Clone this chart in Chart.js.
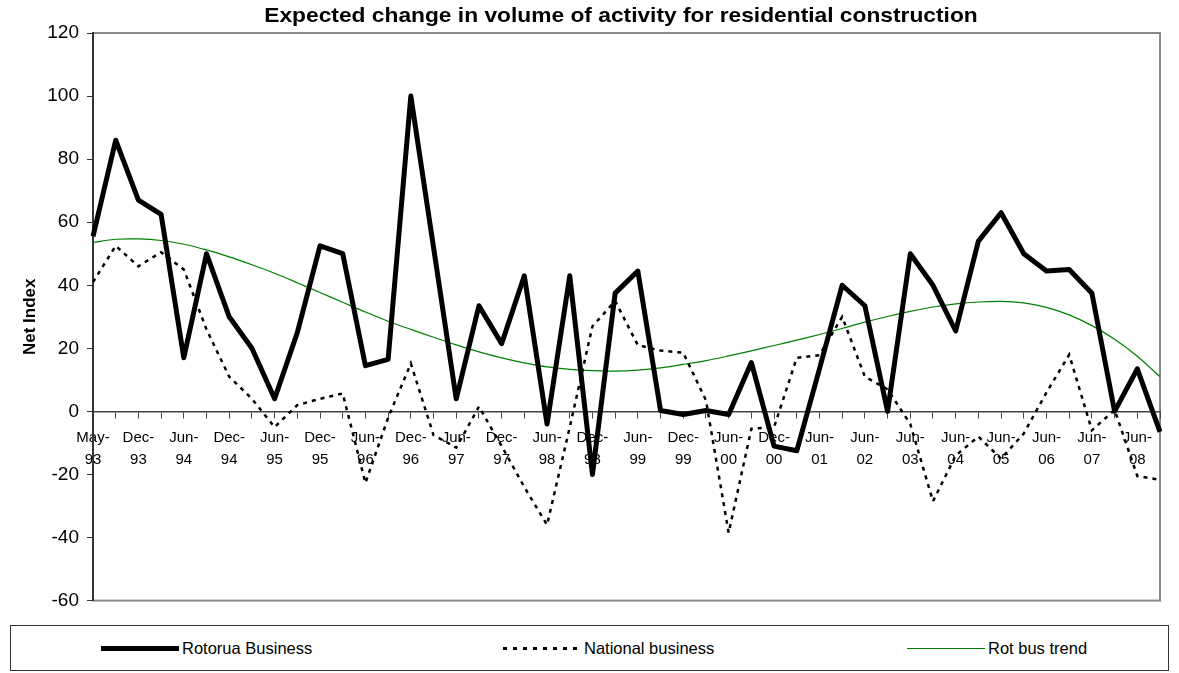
<!DOCTYPE html>
<html>
<head>
<meta charset="utf-8">
<title>Expected change in volume of activity for residential construction</title>
<script src="https://cdn.jsdelivr.net/npm/chart.js@4.4.1/dist/chart.umd.min.js"></script>
<style>
  html, body { margin: 0; padding: 0; background: #fff; }
  #page  { position: relative; width: 1179px; height: 673px; overflow: hidden; font-family: 'Liberation Sans', Arial, sans-serif; }
  #title {
    position: absolute; left: 0; top: 3px; width: 1242px; text-align: center;
    font-size: 21px; font-weight: bold; color: #000; line-height: 24px;
    transform: scaleX(1.084); transform-origin: 621px 0;
  }
  #plot  { position: absolute; left: 0; top: 0; width: 1179px; height: 620px; }
  #legend {
    position: absolute; left: 10px; top: 625px; width: 1157px; height: 44px;
    border: 1.5px solid #333; box-sizing: content-box;
  }
  .lg-item { position: absolute; top: 0; height: 44px; display: flex; align-items: center; font-size: 16.5px; color: #000; }
  .lg-swatch { width: 78px; margin-right: 3px; }
  .sw-rot  { height: 5px; background: #000; }
  .sw-nat  { height: 3px; background: repeating-linear-gradient(90deg, #000 0 4px, transparent 4px 10px); }
  .sw-trend{ height: 1px; background: #008000; }
</style>
</head>
<body>
<div id="page">
  <div id="plot"><canvas id="chart"></canvas></div>
  <div id="title">Expected change in volume of activity for residential construction</div>
  <div id="legend">
    <div class="lg-item" style="left:90px"><span class="lg-swatch sw-rot"></span>Rotorua Business</div>
    <div class="lg-item" style="left:492px"><span class="lg-swatch sw-nat"></span>National business</div>
    <div class="lg-item" style="left:896px"><span class="lg-swatch sw-trend"></span>Rot bus trend</div>
  </div>
</div>
<script>
// ── Data ────────────────────────────────────────────────────
const periods = [
  'May-93','Sep-93','Dec-93','Mar-94','Jun-94','Sep-94','Dec-94','Mar-95',
  'Jun-95','Sep-95','Dec-95','Mar-96','Jun-96','Sep-96','Dec-96','Mar-97',
  'Jun-97','Sep-97','Dec-97','Mar-98','Jun-98','Sep-98','Dec-98','Mar-99',
  'Jun-99','Sep-99','Dec-99','Mar-00','Jun-00','Sep-00','Dec-00','Mar-01',
  'Jun-01','Dec-01','Jun-02','Dec-02','Jun-03','Dec-03','Jun-04','Dec-04',
  'Jun-05','Dec-05','Jun-06','Dec-06','Jun-07','Dec-07','Jun-08','Dec-08'
];

const rotoruaBusiness = [
  55.5, 86, 67, 62.5, 17, 50, 30, 20, 4, 25, 52.5, 50, 14.5, 16.5, 100, 52,
  4, 33.5, 21.5, 43, -4, 43, -20, 37.5, 44.5, 0.3, -1, 0.3, -1, 15.5, -11, -12.5,
  13.5, 40, 33.5, 0, 50, 40, 25.5, 54, 63, 50, 44.5, 45, 37.5, 0, 13.5, -6.5
];

const nationalBusiness = [
  41, 52.5, 46, 50.5, 45, 26, 11, 4, -5, 2, 4, 5.7, -22.7, -2, 15.2, -7.5,
  -11.5, 1.5, -11, -24, -36, -5, 27, 35, 21, 19.3, 18.6, 3.5, -38.5, -5.5, -5, 17,
  17.8, 30, 11, 7, -4, -28.5, -14, -8, -15, -7, 6, 18, -6, 0.5, -20.5, -21.7
];

const rotBusTrend = [
  53.6, 54.6, 54.7, 54.2, 53.0, 51.2, 49.0, 46.5, 43.8, 40.8, 37.7, 34.6, 31.5, 28.6, 26.0, 23.5,
  21.1, 18.9, 17.0, 15.4, 14.1, 13.3, 12.9, 12.8, 13.1, 13.8, 14.9, 16.1, 17.6, 19.2, 20.9, 22.6,
  24.4, 26.3, 28.3, 30.1, 31.7, 33.1, 34.1, 34.7, 34.9, 34.4, 33.0, 30.6, 27.2, 22.9, 17.5, 11.0
];

const yTicks = { min: -60, max: 120, step: 20 };

(function () {
  'use strict';

  // ── Plot frame (grey box round the plot area) ─────────────
  const framePlugin = {
    id: 'frame',
    beforeDraw(chart) {
      const { ctx, chartArea: a } = chart;
      ctx.save();
      ctx.strokeStyle = '#8a8a8a';
      ctx.lineWidth = 2;
      ctx.strokeRect(a.left, a.top, a.right - a.left, a.bottom - a.top);
      ctx.restore();
    }
  };

  // ── Tick label: every other period, split on two lines ────
  function periodLabel(value, index) {
    if (index % 2 !== 0) return '';
    const parts = periods[index].split('-');
    return [parts[0] + '-', parts[1]];
  }

  // ── Chart ──────────────────────────────────────────────────
  const ctx = document.getElementById('chart').getContext('2d');
  new Chart(ctx, {
    type: 'line',
    data: {
      labels: periods,
      datasets: [
        {
          label:           'Rotorua Business',
          data:            rotoruaBusiness,
          borderColor:     '#000',
          borderWidth:     5,
          borderJoinStyle: 'round',
          pointRadius:     0,
          tension:         0,
          order:           1
        },
        {
          label:       'National business',
          data:        nationalBusiness,
          borderColor: '#000',
          borderWidth: 2.5,
          borderDash:  [4, 5],
          pointRadius: 0,
          tension:     0,
          order:       2
        },
        {
          label:       'Rot bus trend',
          data:        rotBusTrend,
          borderColor: '#008000',
          borderWidth: 1.2,
          pointRadius: 0,
          tension:     0.3,
          order:       3
        }
      ]
    },
    options: {
      responsive:          true,
      maintainAspectRatio: false,
      animation:           false,
      layout: { padding: { left: 0, right: 19, top: 33, bottom: 17 } },
      plugins: {
        legend:  { display: false },
        tooltip: { enabled: false }
      },
      scales: {
        x: {
          type:     'category',
          position: { y: 0 },
          offset:   false,
          grid: {
            drawOnChartArea: false,
            drawTicks:       true,
            tickLength:      6,
            color:           '#444',
            lineWidth:       1
          },
          border: { display: true, color: '#444', width: 1.5 },
          ticks: {
            autoSkip:    false,
            maxRotation: 0,
            padding:     10,
            color:       '#000',
            font:        { family: 'Liberation Sans', size: 15, lineHeight: '21.7px' },
            callback:    periodLabel
          }
        },
        y: {
          min: yTicks.min,
          max: yTicks.max,
          afterFit(scale) { scale.width = 93; },
          grid: {
            drawOnChartArea: false,
            drawTicks:       true,
            tickLength:      6,
            color:           '#333'
          },
          border: { display: true, color: '#333', width: 2 },
          ticks: {
            stepSize: yTicks.step,
            padding:  8,
            color:    '#000',
            font:     { family: 'Liberation Sans', size: 19 }
          },
          title: {
            display: true,
            text:    'Net Index',
            color:   '#000',
            font:    { family: 'Liberation Sans', size: 17, weight: 'bold', lineHeight: 1.2 },
            padding: { top: 20, bottom: 0 }
          }
        }
      }
    },
    plugins: [framePlugin]
  });
})();
</script>
</body>
</html>
